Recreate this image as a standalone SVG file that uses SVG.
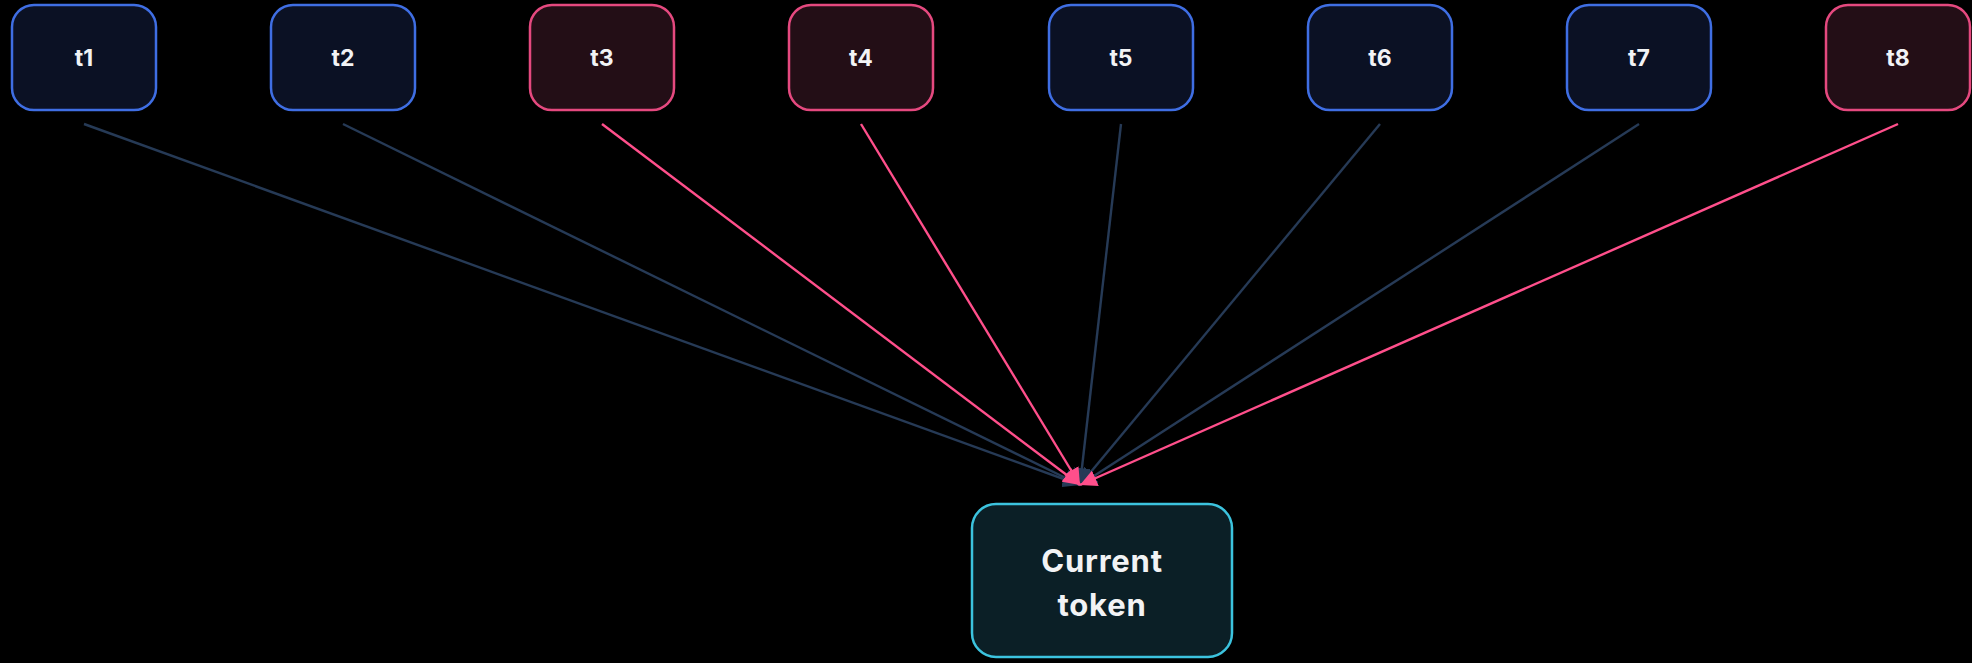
<svg xmlns="http://www.w3.org/2000/svg" width="1972" height="663" viewBox="0 0 1972 663">
  <style>
    .box-blue { fill: #0b1124; stroke: #3f6ee3; stroke-width: 2.5; }
    .box-pink { fill: #230e16; stroke: #e5497f; stroke-width: 2.5; }
    .box-target { fill: #0b1f26; stroke: #3cc3de; stroke-width: 2.5; }
    .label { font-family: Inter, "Liberation Sans", sans-serif; font-weight: 700; fill: #f2f3f5; text-anchor: middle; }
    .small { font-size: 23px; }
    .big { font-size: 31px; letter-spacing: 0.8px; }
    .edge-dim { stroke: #263a56; stroke-width: 2.4; fill: none; }
    .edge-hot { stroke: #ff4f8b; stroke-width: 2.4; fill: none; }
  </style>
  <defs>
    <marker id="arrow-dim" viewBox="0 0 10 10" refX="10" refY="5" markerWidth="7" markerHeight="7" markerUnits="strokeWidth" orient="auto">
      <path d="M0,0 L10,5 L0,10 z" fill="#263a56"/>
    </marker>
    <marker id="arrow-hot" viewBox="0 0 10 10" refX="10" refY="5" markerWidth="7" markerHeight="7" markerUnits="strokeWidth" orient="auto">
      <path d="M0,0 L10,5 L0,10 z" fill="#ff4f8b"/>
    </marker>
  </defs>
  <rect width="1972" height="663" fill="#000000"/>

  <g id="connectors">
    <line class="edge-dim" x1="84" y1="124" x2="1080" y2="485" marker-end="url(#arrow-dim)"/>
    <line class="edge-dim" x1="343" y1="124" x2="1080" y2="485" marker-end="url(#arrow-dim)"/>
    <line class="edge-dim" x1="1121" y1="124" x2="1080" y2="485" marker-end="url(#arrow-dim)"/>
    <line class="edge-dim" x1="1380" y1="124" x2="1080" y2="485" marker-end="url(#arrow-dim)"/>
    <line class="edge-dim" x1="1639" y1="124" x2="1080" y2="485" marker-end="url(#arrow-dim)"/>
    <line class="edge-hot" x1="602" y1="124" x2="1080" y2="485" marker-end="url(#arrow-hot)"/>
    <line class="edge-hot" x1="861" y1="124" x2="1080" y2="485" marker-end="url(#arrow-hot)"/>
    <line class="edge-hot" x1="1898" y1="124" x2="1080" y2="485" marker-end="url(#arrow-hot)"/>
  </g>

  <g id="t1">
    <rect class="box-blue" x="12" y="5" width="144" height="105" rx="22"/>
    <text class="label small" x="84" y="66">t1</text>
  </g>
  <g id="t2">
    <rect class="box-blue" x="271" y="5" width="144" height="105" rx="22"/>
    <text class="label small" x="343" y="66">t2</text>
  </g>
  <g id="t3">
    <rect class="box-pink" x="530" y="5" width="144" height="105" rx="22"/>
    <text class="label small" x="602" y="66">t3</text>
  </g>
  <g id="t4">
    <rect class="box-pink" x="789" y="5" width="144" height="105" rx="22"/>
    <text class="label small" x="861" y="66">t4</text>
  </g>
  <g id="t5">
    <rect class="box-blue" x="1049" y="5" width="144" height="105" rx="22"/>
    <text class="label small" x="1121" y="66">t5</text>
  </g>
  <g id="t6">
    <rect class="box-blue" x="1308" y="5" width="144" height="105" rx="22"/>
    <text class="label small" x="1380" y="66">t6</text>
  </g>
  <g id="t7">
    <rect class="box-blue" x="1567" y="5" width="144" height="105" rx="22"/>
    <text class="label small" x="1639" y="66">t7</text>
  </g>
  <g id="t8">
    <rect class="box-pink" x="1826" y="5" width="144" height="105" rx="22"/>
    <text class="label small" x="1898" y="66">t8</text>
  </g>

  <g id="current-token">
    <rect class="box-target" x="972" y="504" width="260" height="153" rx="24"/>
    <text class="label big" x="1102" y="572">Current</text>
    <text class="label big" x="1102" y="616">token</text>
  </g>
</svg>
